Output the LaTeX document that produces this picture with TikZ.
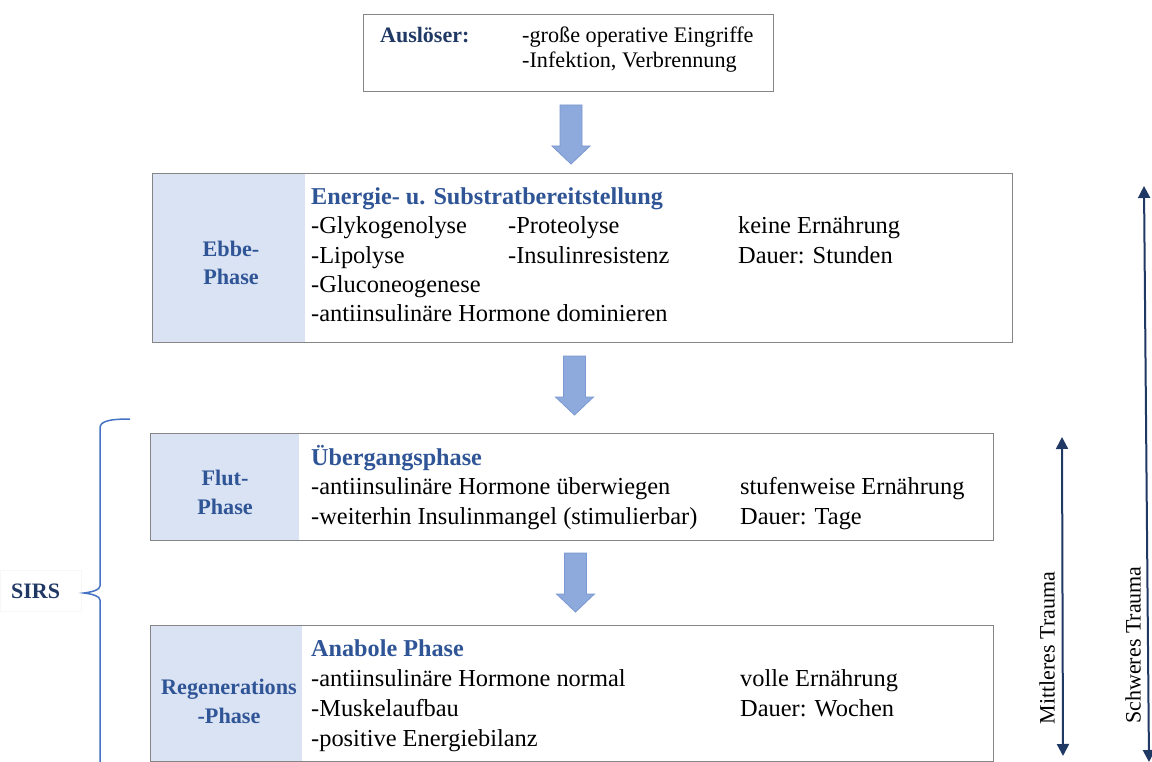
\documentclass[tikz,border=0pt]{standalone}
\usepackage{fontspec}
\setmainfont{Liberation Serif}
\usetikzlibrary{arrows.meta,calc}
\definecolor{navy}{HTML}{203864}
\definecolor{tblue}{HTML}{2F5597}
\definecolor{shade}{HTML}{DAE3F3}
\definecolor{bgray}{HTML}{858585}
\definecolor{bafill}{HTML}{8EA9DB}
\definecolor{badraw}{HTML}{7A98D2}
\definecolor{brace}{HTML}{4472C4}
\newcommand{\blockarrow}[3]{% name, x-center, y-top
  \coordinate (#1) at (#2,#3);
  \filldraw[barrow] ($(#1)+(-11,0)$) -- ($(#1)+(11,0)$) -- ($(#1)+(11,41)$) -- ($(#1)+(19,41)$) -- ($(#1)+(0,59)$) -- ($(#1)+(-19,41)$) -- ($(#1)+(-11,41)$) -- cycle;}
\begin{document}
\begin{tikzpicture}[x=1pt,y=-1pt,
  box/.style={draw=bgray,line width=1.3pt,rectangle,inner sep=0,anchor=north west},
  shadebox/.style={fill=shade,rectangle,inner sep=0,anchor=north west},
  txt/.style={anchor=base west,inner sep=0,font=\fontsize{24.4}{30}\selectfont},
  ttl/.style={anchor=base west,inner sep=0,font=\fontsize{24.2}{30}\selectfont\bfseries,text=tblue},
  lbl/.style={anchor=base,inner sep=0,font=\fontsize{22.2}{26}\selectfont\bfseries,text=tblue},
  small/.style={anchor=base west,inner sep=0,font=\fontsize{22.2}{26}\selectfont},
  barrow/.style={fill=bafill,draw=badraw,line width=0.8pt},
  tarrow/.style={draw=navy,line width=2pt,{Triangle[length=12pt,width=12pt]}-{Triangle[length=12pt,width=12pt]}},
  bracestyle/.style={draw=brace,line width=1.5pt}]
\useasboundingbox (0,0) rectangle (1152,762);
\fill[white] (0,0) rectangle (1152,762);

% trigger box
\node[box,minimum width=410pt,minimum height=77pt] (trig) at (363,14) {};
\node[anchor=base west,inner sep=0,font=\fontsize{22}{26}\selectfont\bfseries,text=navy] (ausl) at (380,43) {Auslöser:};
\node[small] (t1) at (522,43) {-große operative Eingriffe};
\node[small] (t2) at (522,68) {-Infektion, Verbrennung};

\blockarrow{a1}{571}{105}

% Ebbe box
\node[shadebox,minimum width=153pt,minimum height=169pt] (ebbeL) at (152,173) {};
\node[box,minimum width=860pt,minimum height=169pt] (ebbe) at (152,173) {};
\node[lbl] (ebbeA) at (231,257) {Ebbe-};
\node[lbl] (ebbeB) at (231,285) {Phase};
\node[ttl] (ebbeT) at (311,205) {Energie- u. Substratbereitstellung};
\node[txt] (e1) at (311,234) {-Glykogenolyse};
\node[txt] (e2) at (508,234) {-Proteolyse};
\node[txt] (e3) at (738,234) {keine Ernährung};
\node[txt] (e4) at (311,264) {-Lipolyse};
\node[txt] (e5) at (508,264) {-Insulinresistenz};
\node[txt] (e6) at (738,264) {Dauer: Stunden};
\node[txt] (e7) at (311,293) {-Gluconeogenese};
\node[txt] (e8) at (311,322) {-antiinsulinäre Hormone dominieren};

\blockarrow{a2}{574.5}{356}

% Flut box
\node[shadebox,minimum width=149pt,minimum height=107pt] (flutL) at (150,433) {};
\node[box,minimum width=843pt,minimum height=107pt] (flut) at (150,433) {};
\node[lbl] (flutA) at (225,485) {Flut-};
\node[lbl] (flutB) at (225,514) {Phase};
\node[ttl] (flutT) at (311,465) {Übergangsphase};
\node[txt] (f1) at (311,494) {-antiinsulinäre Hormone überwiegen};
\node[txt] (f2) at (740,494) {stufenweise Ernährung};
\node[txt] (f3) at (311,524) {-weiterhin Insulinmangel (stimulierbar)};
\node[txt] (f4) at (740,524) {Dauer: Tage};

\blockarrow{a3}{575.5}{553}

% Regeneration box
\node[shadebox,minimum width=152pt,minimum height=136pt] (regL) at (150,625) {};
\node[box,minimum width=843pt,minimum height=136pt] (reg) at (150,625) {};
\node[lbl] (regA) at (229,694) {Regenerations};
\node[lbl] (regB) at (229,723) {-Phase};
\node[ttl] (regT) at (311,656) {Anabole Phase};
\node[txt] (r1) at (311,686) {-antiinsulinäre Hormone normal};
\node[txt] (r2) at (740,686) {volle Ernährung};
\node[txt] (r3) at (311,716) {-Muskelaufbau};
\node[txt] (r4) at (740,716) {Dauer: Wochen};
\node[txt] (r5) at (311,746) {-positive Energiebilanz};

% SIRS brace
\node[draw=black!3,fill=white,minimum width=81pt,minimum height=41pt,anchor=north west,inner sep=0] (sirsbox) at (0,570) {};
\node[anchor=base west,inner sep=0,font=\fontsize{22}{26}\selectfont\bfseries,text=navy] (sirs) at (11,598) {SIRS};
\coordinate (brT) at (130,419);
\coordinate (brTip) at (84,593);
\coordinate (brB) at (100,762);
\draw[bracestyle] (brT) .. controls (110,419) and (100,421) .. (100,428) -- (100,586) .. controls (100,590) and (92,592) .. (brTip) .. controls (92,594) and (100,596) .. (100,600) -- (brB);

% trauma arrows
\coordinate (mtT) at (1062,437);
\coordinate (mtB) at (1063,756);
\draw[tarrow] (mtT) -- (mtB);
\node[rotate=90,inner sep=0,font=\fontsize{22}{26}\selectfont] (mt) at (1047,648) {Mittleres Trauma};
\coordinate (stT) at (1144,186);
\coordinate (stB) at (1149,762);
\draw[tarrow] (stT) -- (stB);
\node[rotate=90,inner sep=0,font=\fontsize{22}{26}\selectfont] (st) at (1133,645) {Schweres Trauma};
\end{tikzpicture}
\end{document}
